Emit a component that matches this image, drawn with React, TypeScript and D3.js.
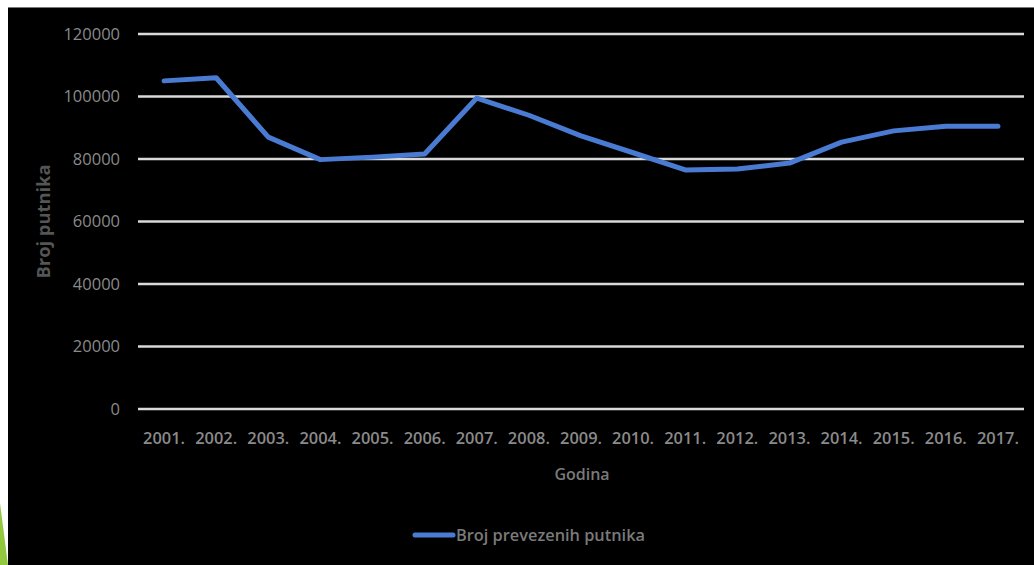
import React from "react";
import * as d3 from "d3";

const years = ["2001.", "2002.", "2003.", "2004.", "2005.", "2006.", "2007.", "2008.", "2009.", "2010.", "2011.", "2012.", "2013.", "2014.", "2015.", "2016.", "2017."];
const passengers = [105000, 106000, 87000, 79800, 80600, 81600, 99500, 94000, 87400, 82000, 76500, 76800, 78700, 85400, 89000, 90500, 90500];
const yTicks = [0, 20000, 40000, 60000, 80000, 100000, 120000];
const seriesName = "Broj prevezenih putnika";
const xTitle = "Godina";
const yTitle = "Broj putnika";

export default function App() {
  const W = 1034, H = 565;
  const left = 138, right = 1024, top = 34, bottom = 409;
  const x = d3.scaleBand<string>().domain(years).range([left, right]);
  const y = d3.scaleLinear().domain([0, 120000]).range([bottom, top]);
  const line = d3.line<number>()
    .x((_, i) => (x(years[i]) as number) + x.bandwidth() / 2)
    .y((d) => y(d));
  const font = "'Open Sans', sans-serif";
  return (
    <svg width={W} height={H} style={{ position: "absolute", left: 0, top: 0 }}>
      <rect x={0} y={0} width={W} height={H} fill="#ffffff" />
      <rect x={8} y={7} width={W - 8} height={H - 7} fill="#000000" />
      <line x1={8} x2={W} y1={7.5} y2={7.5} stroke="#777" strokeWidth={1} />
      <polygon points="0,503 8,565 0,565" fill="#92c83e" />
      {yTicks.map((t) => (
        <g key={t}>
          <line x1={left} x2={right} y1={y(t)} y2={y(t)} stroke="#d9d9d9" strokeWidth={2.5} />
          <text x={120} y={y(t)} dy="0.35em" textAnchor="end" fill="#8a8a8a" fontFamily={font} fontSize={16.5}>
            {t}
          </text>
        </g>
      ))}
      {years.map((yr) => (
        <text key={yr} x={(x(yr) as number) + x.bandwidth() / 2} y={444} textAnchor="middle" fill="#8a8a8a" fontFamily={font} fontSize={16} fontWeight={600} textLength={42} lengthAdjust="spacingAndGlyphs">
          {yr}
        </text>
      ))}
      <text x={582} y={480} textAnchor="middle" fill="#7a7a7a" fontFamily={font} fontSize={16} fontWeight={600}>{xTitle}</text>
      <text transform={`translate(50,${(top + bottom) / 2}) rotate(-90)`} textAnchor="middle" fill="#555" fontFamily={font} fontSize={17} fontWeight={700} textLength={114} lengthAdjust="spacingAndGlyphs">{yTitle}</text>
      <path d={line(passengers) || ""} fill="none" stroke="#4a7bd3" strokeWidth={5} strokeLinejoin="round" strokeLinecap="round" />
      <line x1={415} x2={453} y1={535} y2={535} stroke="#4a7bd3" strokeWidth={5} strokeLinecap="round" />
      <text x={456} y={535} dy="0.35em" fill="#7a7a7a" fontFamily={font} fontSize={16} fontWeight={600} textLength={189} lengthAdjust="spacingAndGlyphs">{seriesName}</text>
    </svg>
  );
}
